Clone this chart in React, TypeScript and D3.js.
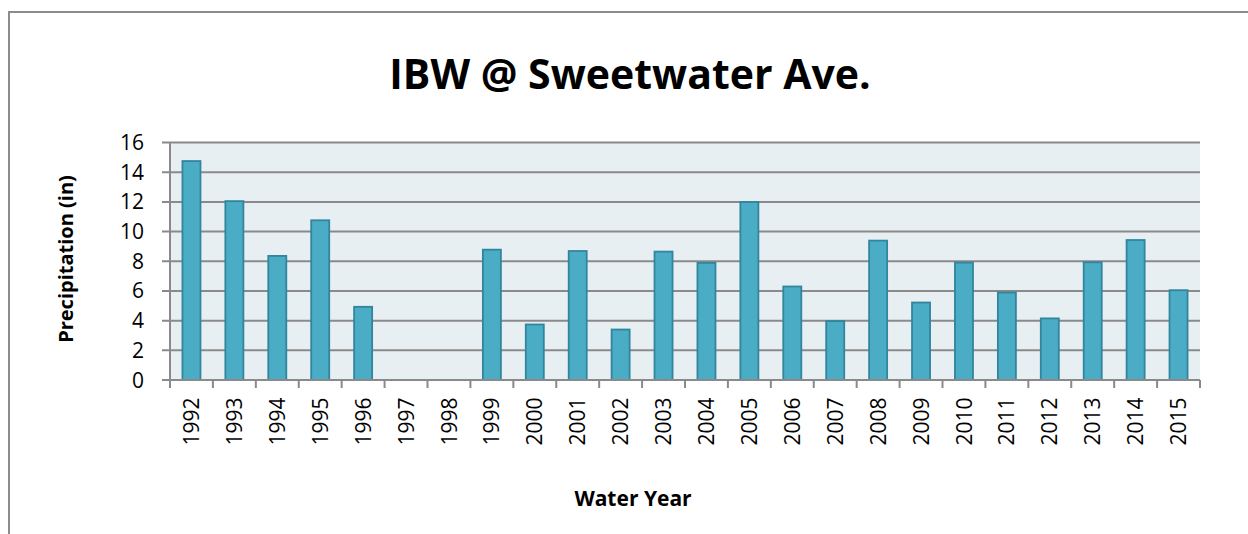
import React from "react";
import * as d3 from "d3";

const years = ["1992","1993","1994","1995","1996","1997","1998","1999","2000","2001","2002","2003","2004","2005","2006","2007","2008","2009","2010","2011","2012","2013","2014","2015"];
const precip = [14.75,12.05,8.36,10.76,4.93,0,0,8.78,3.74,8.69,3.4,8.65,7.89,11.99,6.3,3.97,9.39,5.22,7.91,5.89,4.15,7.93,9.43,6.05];
const yTicks = [0,2,4,6,8,10,12,14,16];
const title = "IBW @ Sweetwater Ave.";
const yTitle = "Precipitation (in)";
const xTitle = "Water Year";

export default function App() {
  const W = 1248, H = 534;
  const left = 170, right = 1200, top = 142.5, bottom = 380;
  const x = d3.scaleBand<string>().domain(years).range([left, right]).paddingInner(0.58).paddingOuter(0.29);
  const xb = d3.scaleBand<string>().domain(years).range([left, right]);
  const y = d3.scaleLinear().domain([0, 16]).range([bottom, top]);
  const font = "'Open Sans', 'Liberation Sans', sans-serif";
  return (
    <svg width={W} height={H} style={{ position: "absolute", left: 0, top: 0 }}>
      <rect x={0} y={0} width={W} height={H} fill="#fff" />
      <rect x={9} y={12} width={1300} height={600} fill="#fff" stroke="#8c8c8c" strokeWidth={2} />
      <text x={630} y={88.5} textAnchor="middle" fontFamily={font} fontWeight="bold" fontSize={41} fill="#000">{title}</text>
      <rect x={left} y={top} width={right - left} height={bottom - top} fill="#E8EFF3" />
      {yTicks.map(t => (
        <g key={t}>
          <line x1={left - 8} x2={right} y1={y(t)} y2={y(t)} stroke="#8a8a8a" strokeWidth={2} />
          <text x={144} y={y(t)} dy="0.36em" textAnchor="end" fontFamily={font} fontSize={21} fill="#000">{t}</text>
        </g>
      ))}
      <line x1={left} x2={left} y1={top} y2={bottom} stroke="#8a8a8a" strokeWidth={2} />
      {years.map((yr, i) => precip[i] > 0 ? (
        <rect key={yr} x={x(yr)} y={y(precip[i])} width={x.bandwidth()} height={bottom - y(precip[i])}
          fill="#4BACC6" stroke="#31859C" strokeWidth={1.8} />
      ) : null)}
      <line x1={left - 8} x2={right} y1={bottom} y2={bottom} stroke="#8a8a8a" strokeWidth={2} />
      {years.map(yr => (
        <line key={"t" + yr} x1={xb(yr)} x2={xb(yr)} y1={bottom} y2={bottom + 8} stroke="#8a8a8a" strokeWidth={2} />
      ))}
      <line x1={right} x2={right} y1={bottom} y2={bottom + 8} stroke="#8a8a8a" strokeWidth={2} />
      {years.map(yr => {
        const cx = (xb(yr) as number) + xb.bandwidth() / 2;
        return (
          <text key={"l" + yr} transform={`translate(${cx},${397.5}) rotate(-90)`} textAnchor="end" dy="0.36em"
            fontFamily={font} fontSize={21} fill="#000">{yr}</text>
        );
      })}
      <text transform={`translate(73,259) rotate(-90)`} textAnchor="middle" fontFamily={font} fontWeight="bold" fontSize={20} fill="#000">{yTitle}</text>
      <text x={633} y={506} textAnchor="middle" fontFamily={font} fontWeight="bold" fontSize={21} fill="#000">{xTitle}</text>
    </svg>
  );
}
